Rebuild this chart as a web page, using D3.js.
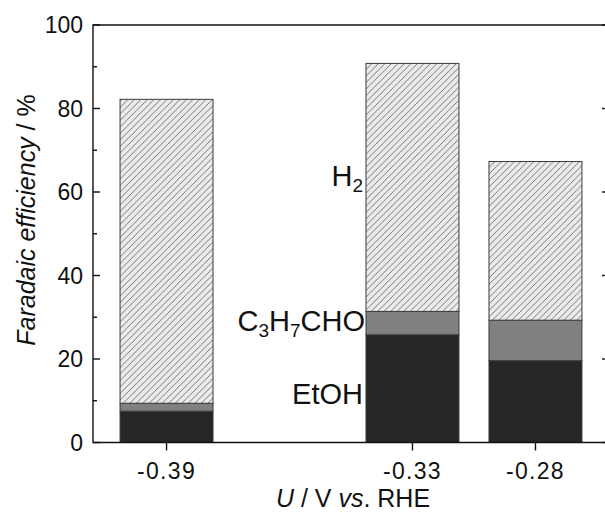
<!DOCTYPE html>
<html>
  <head>
    <meta charset="utf-8" />
    <style>
      body { margin: 0; background: #fff; }
      text { font-family: "Liberation Sans", Arial, sans-serif; fill: #111; }
    </style>
  </head>
  <body>
    <svg width="605" height="513"></svg>
    <script src="https://d3js.org/d3.v7.min.js"></script>
    <script>
      // potentials (the blank slot is an empty column on the axis)
      var potentials = ["-0.39", "gap", "-0.33", "-0.28"];
      var etoh = [7.5, 0, 25.8, 19.6];
      var butanal = [1.9, 0, 5.6, 9.7];
      var h2 = [72.8, 0, 59.4, 38.0];
      var yTicks = [0, 20, 40, 60, 80, 100];
      var yMinor = [10, 30, 50, 70, 90];

      var svg = d3.select("svg"),
        x0 = 93,
        x1 = 609,
        yTop = 25,
        yBot = 442.5;

      var x = d3
        .scaleBand()
        .domain(potentials)
        .range([x0, x1])
        .paddingInner(0.244)
        .paddingOuter(0.22);

      var y = d3.scaleLinear().domain([0, 100]).range([yBot, yTop]);

      var defs = svg.append("defs");
      var pat = defs
        .append("pattern")
        .attr("id", "hatch")
        .attr("patternUnits", "userSpaceOnUse")
        .attr("width", 6.5)
        .attr("height", 6.5);
      pat.append("rect").attr("width", 6.5).attr("height", 6.5).attr("fill", "#ebebeb");
      pat
        .append("path")
        .attr("d", "M-1,1 l2,-2 M0,6.5 l6.5,-6.5 M5.5,7.5 l2,-2")
        .attr("stroke", "#5a5a5a")
        .attr("stroke-width", 0.8);

      var rows = potentials.map(function(p, i) {
        return { p: p, etoh: etoh[i], butanal: butanal[i], h2: h2[i] };
      });
      var stack = d3.stack().keys(["etoh", "butanal", "h2"])(
        rows.filter(function(d) { return d.p !== "gap"; })
      );
      var fills = { etoh: "#262626", butanal: "#808080", h2: "url(#hatch)" };

      stack.forEach(function(layer) {
        svg
          .append("g")
          .selectAll("rect")
          .data(layer)
          .enter()
          .append("rect")
          .attr("x", function(d) { return x(d.data.p); })
          .attr("width", x.bandwidth())
          .attr("y", function(d) { return y(d[1]); })
          .attr("height", function(d) { return y(d[0]) - y(d[1]); })
          .attr("fill", fills[layer.key])
          .attr("stroke", "#3a3a3a")
          .attr("stroke-width", 1);
      });

      // frame
      var ax = svg.append("g").attr("stroke", "#111").attr("stroke-width", 1.4).attr("fill", "none");
      ax.append("path").attr("d", "M" + x0 + "," + yTop + "H" + x1 + "V" + yBot + "H" + x0 + "Z");

      // left ticks (inward)
      yTicks.forEach(function(t) {
        ax.append("line").attr("x1", x0).attr("x2", x0 + 7).attr("y1", y(t)).attr("y2", y(t));
        ax.append("line").attr("x1", x1).attr("x2", x1 - 7).attr("y1", y(t)).attr("y2", y(t));
        svg
          .append("text")
          .attr("x", x0 - 10)
          .attr("y", y(t))
          .attr("dy", "0.36em")
          .attr("text-anchor", "end")
          .attr("font-size", "23px")
          .text(t);
      });
      yMinor.forEach(function(t) {
        ax.append("line").attr("x1", x0).attr("x2", x0 + 4).attr("y1", y(t)).attr("y2", y(t));
      });

      // bottom ticks (outward)
      potentials.filter(function(p) { return p !== "gap"; }).forEach(function(p) {
        var cx = x(p) + x.bandwidth() / 2;
        ax.append("line").attr("x1", cx).attr("x2", cx).attr("y1", yBot).attr("y2", yBot + 8);
        svg
          .append("text")
          .attr("x", cx)
          .attr("y", yBot + 36)
          .attr("text-anchor", "middle")
          .attr("font-size", "23px")
          .attr("letter-spacing", "1.3px")
          .text(p);
      });

      // axis titles
      var xt = svg
        .append("text")
        .attr("x", 353)
        .attr("y", 507)
        .attr("text-anchor", "middle")
        .attr("font-size", "25px");
      xt.append("tspan").attr("font-style", "italic").text("U");
      xt.append("tspan").text(" / V ");
      xt.append("tspan").attr("font-style", "italic").text("vs");
      xt.append("tspan").text(". RHE");

      var yt = svg
        .append("text")
        .attr("transform", "translate(35,220) rotate(-90)")
        .attr("text-anchor", "middle")
        .attr("font-size", "25px");
      yt.append("tspan").attr("font-style", "italic").text("Faradaic efficiency");
      yt.append("tspan").text(" / %");

      // species labels
      var lx = 363;
      var l1 = svg.append("text").attr("x", lx).attr("y", y(61.5)).attr("text-anchor", "end").attr("font-size", "29px");
      l1.append("tspan").text("H");
      l1.append("tspan").attr("font-size", "19px").attr("dy", 6).text("2");

      var l2 = svg.append("text").attr("x", lx + 2).attr("y", y(26.7)).attr("text-anchor", "end").attr("font-size", "29px");
      l2.append("tspan").text("C");
      l2.append("tspan").attr("font-size", "19px").attr("dy", 6).text("3");
      l2.append("tspan").attr("dy", -6).text("H");
      l2.append("tspan").attr("font-size", "19px").attr("dy", 6).text("7");
      l2.append("tspan").attr("dy", -6).text("CHO");

      svg.append("text").attr("x", lx).attr("y", y(9.2)).attr("text-anchor", "end").attr("font-size", "29px").text("EtOH");
    </script>
  </body>
</html>
